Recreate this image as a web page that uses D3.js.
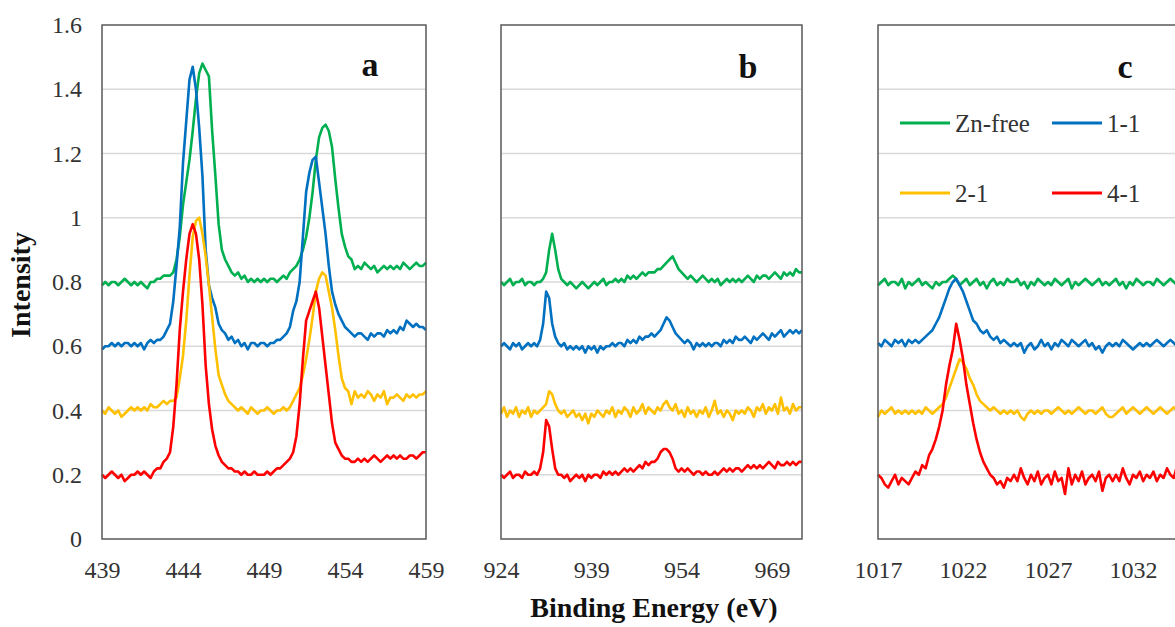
<!DOCTYPE html>
<html lang="en">
<head>
    <meta charset="UTF-8">
    <title>XPS spectra</title>
    <style>
        body{
            margin: 0;
            background: #fff;
        }
        svg{
            display: block;
        }
        .axis text{
            font-size: 24px;
            fill: #333;
        }
        .grid line{
            stroke: #d9d9d9;
            stroke-width: 1.5px;
        }
        .frame{
            fill: none;
            stroke: #595959;
            stroke-width: 1.5px;
        }
        .spec{
            fill: none;
            stroke-width: 2.6px;
            stroke-linejoin: round;
        }
        .letter{
            font-weight: bold;
            font-size: 34px;
            fill: #111;
        }
        .label{
            font-weight: bold;
            font-size: 28px;
            fill: #111;
        }
        .legend text{
            font-size: 25px;
            fill: #333;
        }
    </style>
    <script src="https://cdn.jsdelivr.net/npm/d3@7"></script>
</head>
<body>
<script>

    // ---------------- data ----------------
    const seriesNames = ["Zn-free", "1-1", "2-1", "4-1"];
    const seriesColors = ["#00b050", "#0070c0", "#ffc000", "#ff0000"];
    const yTicks = [0, 0.2, 0.4, 0.6, 0.8, 1, 1.2, 1.4, 1.6];
    const panelLetters = ["a", "b", "c"];

    const xTicksA = [439, 444, 449, 454, 459];
    const xTicksB = [924, 939, 954, 969];
    const xTicksC = [1017, 1022, 1027, 1032];

    // energy sampling of each panel (start, step in eV)
    const energyA = [439, 0.2];
    const energyB = [924, 0.5];
    const energyC = [1017, 0.2];

    // panel a : 439 - 459 eV
    const aZnFree = [
        0.79,0.80,0.79,0.80,0.80,0.79,0.80,0.81,0.80,0.79,
        0.80,0.79,0.80,0.79,0.78,0.80,0.80,0.81,0.81,0.82,
        0.82,0.82,0.83,0.87,0.94,1.04,1.11,1.18,1.27,1.37,
        1.45,1.48,1.46,1.44,1.27,1.13,0.98,0.90,0.87,0.85,
        0.83,0.82,0.83,0.81,0.82,0.80,0.81,0.80,0.81,0.80,
        0.81,0.80,0.81,0.81,0.80,0.81,0.82,0.81,0.83,0.84,
        0.85,0.87,0.90,0.94,1.00,1.08,1.18,1.25,1.28,1.29,
        1.27,1.22,1.12,1.03,0.95,0.91,0.88,0.87,0.84,0.85,
        0.84,0.86,0.85,0.84,0.85,0.83,0.84,0.85,0.84,0.85,
        0.84,0.85,0.84,0.86,0.85,0.84,0.85,0.86,0.85,0.85,
        0.86];
    const a11 = [
        0.59,0.60,0.60,0.61,0.60,0.61,0.60,0.61,0.61,0.60,
        0.61,0.60,0.61,0.59,0.61,0.62,0.61,0.62,0.62,0.63,
        0.65,0.67,0.74,0.85,0.97,1.17,1.30,1.43,1.47,1.40,
        1.28,1.13,0.90,0.79,0.75,0.72,0.67,0.65,0.64,0.62,
        0.63,0.61,0.62,0.60,0.61,0.59,0.61,0.61,0.60,0.61,
        0.61,0.60,0.61,0.61,0.62,0.62,0.63,0.64,0.66,0.71,
        0.74,0.80,0.94,1.08,1.14,1.18,1.19,1.11,1.03,0.95,
        0.85,0.77,0.73,0.70,0.68,0.66,0.65,0.64,0.63,0.64,
        0.64,0.63,0.62,0.64,0.63,0.64,0.64,0.63,0.65,0.64,
        0.65,0.64,0.66,0.65,0.68,0.67,0.66,0.67,0.66,0.66,
        0.65];
    const a21 = [
        0.40,0.39,0.41,0.40,0.39,0.40,0.38,0.39,0.40,0.41,
        0.40,0.41,0.40,0.41,0.40,0.42,0.41,0.41,0.42,0.43,
        0.42,0.43,0.43,0.44,0.50,0.57,0.68,0.82,0.94,0.99,
        1.00,0.95,0.88,0.79,0.69,0.59,0.51,0.48,0.45,0.43,
        0.42,0.41,0.40,0.41,0.40,0.39,0.41,0.40,0.39,0.40,
        0.40,0.41,0.40,0.39,0.40,0.40,0.41,0.40,0.41,0.43,
        0.45,0.47,0.51,0.56,0.62,0.69,0.77,0.81,0.83,0.82,
        0.77,0.72,0.65,0.57,0.50,0.47,0.46,0.42,0.46,0.44,
        0.45,0.44,0.46,0.45,0.43,0.45,0.44,0.46,0.42,0.44,
        0.44,0.45,0.44,0.43,0.45,0.44,0.45,0.44,0.45,0.45,
        0.46];
    const a41 = [
        0.20,0.19,0.20,0.21,0.20,0.19,0.20,0.18,0.19,0.20,
        0.20,0.21,0.20,0.21,0.20,0.19,0.21,0.22,0.22,0.24,
        0.25,0.27,0.35,0.48,0.65,0.77,0.87,0.95,0.98,0.95,
        0.87,0.73,0.54,0.42,0.34,0.29,0.26,0.24,0.23,0.22,
        0.22,0.21,0.21,0.20,0.21,0.20,0.20,0.21,0.20,0.20,
        0.20,0.21,0.20,0.21,0.22,0.22,0.23,0.24,0.25,0.27,
        0.32,0.42,0.56,0.68,0.71,0.74,0.77,0.72,0.63,0.54,
        0.45,0.36,0.30,0.28,0.26,0.25,0.25,0.24,0.24,0.25,
        0.24,0.25,0.24,0.25,0.26,0.25,0.24,0.25,0.26,0.25,
        0.26,0.25,0.26,0.25,0.25,0.26,0.26,0.25,0.26,0.27,
        0.27];

    // panel b : 924 - 974 eV
    const bZnFree = [
        0.80,0.79,0.80,0.81,0.79,0.80,0.80,0.81,0.79,0.80,
        0.80,0.79,0.80,0.80,0.81,0.83,0.90,0.95,0.90,0.84,
        0.81,0.80,0.79,0.80,0.79,0.78,0.79,0.80,0.79,0.78,
        0.79,0.80,0.79,0.80,0.81,0.79,0.80,0.80,0.81,0.80,
        0.81,0.80,0.82,0.81,0.82,0.81,0.82,0.83,0.82,0.83,
        0.83,0.83,0.84,0.84,0.85,0.86,0.87,0.88,0.86,0.84,
        0.83,0.82,0.81,0.82,0.81,0.80,0.81,0.82,0.81,0.80,
        0.81,0.80,0.81,0.79,0.80,0.81,0.80,0.81,0.80,0.81,
        0.80,0.81,0.82,0.81,0.80,0.82,0.81,0.82,0.82,0.81,
        0.82,0.83,0.82,0.81,0.83,0.82,0.83,0.82,0.84,0.83,
        0.83];
    const b11 = [
        0.60,0.61,0.60,0.59,0.61,0.60,0.61,0.59,0.60,0.61,
        0.60,0.61,0.60,0.62,0.67,0.77,0.75,0.67,0.63,0.61,
        0.60,0.61,0.59,0.60,0.59,0.60,0.59,0.60,0.58,0.60,
        0.59,0.60,0.58,0.60,0.59,0.60,0.60,0.61,0.60,0.61,
        0.61,0.60,0.62,0.61,0.62,0.61,0.63,0.62,0.63,0.63,
        0.64,0.63,0.64,0.65,0.67,0.69,0.68,0.66,0.64,0.63,
        0.62,0.61,0.62,0.61,0.59,0.61,0.60,0.61,0.60,0.61,
        0.60,0.61,0.61,0.60,0.62,0.61,0.62,0.61,0.63,0.62,
        0.62,0.63,0.62,0.61,0.63,0.62,0.63,0.64,0.63,0.62,
        0.64,0.63,0.64,0.65,0.63,0.64,0.65,0.64,0.65,0.64,
        0.65];
    const b21 = [
        0.39,0.41,0.38,0.40,0.39,0.41,0.38,0.40,0.39,0.41,
        0.38,0.40,0.39,0.40,0.41,0.42,0.46,0.45,0.42,0.40,
        0.39,0.40,0.38,0.39,0.40,0.38,0.39,0.37,0.39,0.36,
        0.39,0.38,0.40,0.39,0.38,0.40,0.39,0.41,0.38,0.40,
        0.39,0.41,0.40,0.38,0.41,0.39,0.40,0.42,0.39,0.41,
        0.40,0.39,0.41,0.40,0.42,0.43,0.41,0.40,0.42,0.39,
        0.40,0.38,0.41,0.39,0.40,0.38,0.40,0.39,0.41,0.38,
        0.40,0.43,0.39,0.40,0.38,0.40,0.39,0.37,0.40,0.39,
        0.40,0.39,0.41,0.40,0.38,0.41,0.40,0.42,0.39,0.41,
        0.40,0.42,0.39,0.44,0.40,0.41,0.39,0.42,0.40,0.41,
        0.41];
    const b41 = [
        0.20,0.19,0.20,0.21,0.19,0.20,0.20,0.19,0.21,0.20,
        0.20,0.21,0.20,0.22,0.27,0.37,0.35,0.28,0.22,0.20,
        0.20,0.19,0.20,0.18,0.19,0.20,0.19,0.20,0.18,0.20,
        0.19,0.20,0.20,0.19,0.21,0.20,0.21,0.20,0.21,0.20,
        0.21,0.22,0.21,0.22,0.21,0.22,0.23,0.22,0.24,0.23,
        0.24,0.24,0.25,0.27,0.28,0.28,0.27,0.25,0.22,0.21,
        0.22,0.21,0.22,0.21,0.20,0.21,0.21,0.20,0.21,0.20,
        0.20,0.21,0.20,0.21,0.22,0.21,0.22,0.21,0.22,0.22,
        0.21,0.22,0.23,0.22,0.23,0.22,0.23,0.22,0.23,0.24,
        0.23,0.22,0.24,0.23,0.23,0.24,0.23,0.24,0.23,0.24,
        0.24];

    // panel c : 1017 - 1035 eV
    const cZnFree = [
        0.79,0.80,0.81,0.79,0.80,0.80,0.79,0.81,0.78,0.80,
        0.79,0.80,0.81,0.79,0.80,0.79,0.78,0.80,0.79,0.80,
        0.80,0.81,0.82,0.81,0.79,0.80,0.81,0.79,0.80,0.81,
        0.79,0.80,0.78,0.80,0.81,0.79,0.80,0.79,0.81,0.80,
        0.80,0.81,0.79,0.80,0.78,0.80,0.79,0.81,0.80,0.79,
        0.80,0.79,0.81,0.80,0.79,0.80,0.81,0.78,0.80,0.79,
        0.80,0.81,0.80,0.79,0.80,0.81,0.79,0.80,0.79,0.80,
        0.81,0.79,0.80,0.78,0.80,0.79,0.81,0.80,0.79,0.80,
        0.80,0.79,0.81,0.80,0.79,0.80,0.81,0.80,0.79,0.80,
        0.80];
    const c11 = [
        0.61,0.60,0.62,0.61,0.60,0.62,0.61,0.62,0.60,0.62,
        0.61,0.62,0.61,0.62,0.63,0.64,0.65,0.67,0.69,0.72,
        0.75,0.78,0.80,0.81,0.79,0.77,0.74,0.71,0.68,0.67,
        0.65,0.64,0.65,0.63,0.62,0.63,0.61,0.62,0.61,0.60,
        0.61,0.60,0.61,0.58,0.60,0.61,0.59,0.60,0.62,0.60,
        0.61,0.59,0.61,0.60,0.62,0.61,0.60,0.62,0.61,0.60,
        0.61,0.62,0.60,0.61,0.59,0.60,0.58,0.60,0.61,0.60,
        0.61,0.60,0.62,0.61,0.60,0.59,0.60,0.61,0.60,0.61,
        0.60,0.61,0.62,0.61,0.60,0.61,0.62,0.61,0.60,0.61,
        0.62];
    const c21 = [
        0.38,0.40,0.39,0.40,0.41,0.39,0.40,0.39,0.40,0.39,
        0.40,0.39,0.40,0.39,0.41,0.40,0.39,0.40,0.41,0.42,
        0.44,0.47,0.50,0.53,0.56,0.55,0.53,0.50,0.48,0.45,
        0.43,0.42,0.41,0.40,0.41,0.40,0.39,0.40,0.39,0.40,
        0.39,0.40,0.38,0.37,0.39,0.40,0.39,0.40,0.39,0.40,
        0.40,0.39,0.40,0.41,0.40,0.39,0.40,0.39,0.40,0.41,
        0.40,0.39,0.40,0.40,0.39,0.40,0.41,0.39,0.38,0.38,
        0.39,0.40,0.41,0.39,0.40,0.41,0.40,0.39,0.40,0.41,
        0.40,0.39,0.40,0.41,0.40,0.39,0.40,0.41,0.40,0.40,
        0.41];
    const c41 = [
        0.20,0.19,0.17,0.16,0.18,0.20,0.17,0.19,0.18,0.17,
        0.19,0.21,0.20,0.23,0.22,0.26,0.28,0.31,0.35,0.40,
        0.48,0.54,0.59,0.67,0.62,0.56,0.48,0.42,0.36,0.31,
        0.27,0.24,0.22,0.20,0.19,0.17,0.18,0.16,0.19,0.18,
        0.20,0.18,0.22,0.19,0.17,0.20,0.18,0.21,0.17,0.19,
        0.20,0.17,0.21,0.18,0.19,0.14,0.22,0.17,0.20,0.18,
        0.21,0.17,0.19,0.20,0.18,0.21,0.15,0.19,0.20,0.18,
        0.20,0.18,0.22,0.19,0.17,0.20,0.19,0.21,0.18,0.20,
        0.19,0.21,0.18,0.20,0.19,0.22,0.20,0.19,0.23,0.24,
        0.23];

    // ---------------- layout ----------------
    const width = 1175;
    const height = 627;
    const plotTop = 25;
    const plotBottom = 539;
    const serif = '"Liberation Serif", "Times New Roman", Times, Tinos, "Nimbus Roman", "Noto Serif", "DejaVu Serif", FreeSerif, serif';

    const panels = [
        {x0: 102, x1: 426, domain: [439, 459], ticks: xTicksA, energy: energyA,
            series: [aZnFree, a11, a21, a41], letter: [370, 76]},
        {x0: 501, x1: 802, domain: [924, 974], ticks: xTicksB, energy: energyB,
            series: [bZnFree, b11, b21, b41], letter: [748, 78]},
        {x0: 878, x1: 1218, domain: [1017, 1037], ticks: xTicksC, energy: energyC,
            series: [cZnFree, c11, c21, c41], letter: [1125, 78]}
    ];

    const svg = d3.select("body").append("svg")
        .attr("width", width)
        .attr("height", height)
        .attr("viewBox", `0,0,${width},${height}`)
        .style("font-family", serif);

    const yScale = d3.scaleLinear()
        .domain([0, 1.6])
        .range([plotBottom, plotTop]);

    panels.forEach((p, pi) => {
        const xScale = d3.scaleLinear()
            .domain(p.domain)
            .range([p.x0, p.x1]);

        // horizontal gridlines
        svg.append("g")
            .attr("class", "grid")
            .selectAll("line")
            .data(yTicks.filter(t => t > 0 && t < 1.6))
            .enter()
            .append("line")
            .attr("x1", p.x0)
            .attr("x2", p.x1)
            .attr("y1", d => yScale(d))
            .attr("y2", d => yScale(d));

        // x axis labels
        svg.append("g")
            .attr("class", "axis")
            .attr("transform", `translate(0, ${plotBottom})`)
            .call(d3.axisBottom(xScale).tickValues(p.ticks).tickSize(0).tickPadding(22).tickFormat(d3.format("d")))
            .attr("font-family", null)
            .attr("font-size", null)
            .call(g => g.select(".domain").remove());

        // spectra
        const line = d3.line()
            .x((d, i) => xScale(p.energy[0] + i * p.energy[1]))
            .y(d => yScale(d));

        svg.append("g")
            .selectAll("path")
            .data(p.series)
            .enter()
            .append("path")
            .attr("class", "spec")
            .attr("stroke", (d, i) => seriesColors[i])
            .attr("d", d => line(d));

        // plot frame
        svg.append("rect")
            .attr("class", "frame")
            .attr("x", p.x0)
            .attr("y", plotTop)
            .attr("width", p.x1 - p.x0)
            .attr("height", plotBottom - plotTop);

        // panel letter
        svg.append("text")
            .attr("class", "letter")
            .attr("x", p.letter[0])
            .attr("y", p.letter[1])
            .style("text-anchor", "middle")
            .text(panelLetters[pi]);
    });

    // y axis (only on panel a)
    svg.append("g")
        .attr("class", "axis")
        .attr("transform", `translate(${panels[0].x0},0)`)
        .call(d3.axisLeft(yScale).tickValues(yTicks).tickSize(0).tickPadding(20).tickFormat(d3.format("~g")))
        .attr("font-family", null)
        .attr("font-size", null)
        .call(g => g.select(".domain").remove());

    // legend inside panel c
    const legend = svg.append("g")
        .attr("class", "legend")
        .selectAll("g")
        .data(seriesNames)
        .enter()
        .append("g")
        .attr("transform", (d, i) => `translate(${900 + (i % 2) * 152},${123 + Math.floor(i / 2) * 70})`);

    legend.append("line")
        .attr("x1", 0)
        .attr("x2", 50)
        .attr("stroke", (d, i) => seriesColors[i])
        .attr("stroke-width", 3);

    legend.append("text")
        .attr("x", 55)
        .attr("dy", "0.35em")
        .text(d => d);

    // axis titles
    svg.append("text")
        .attr("class", "label")
        .attr("transform", `translate(30, 285) rotate(-90)`)
        .style("text-anchor", "middle")
        .text("Intensity");

    svg.append("text")
        .attr("class", "label")
        .attr("x", 654)
        .attr("y", 617)
        .style("text-anchor", "middle")
        .text("Binding Energy (eV)");

</script>
</body>
</html>
